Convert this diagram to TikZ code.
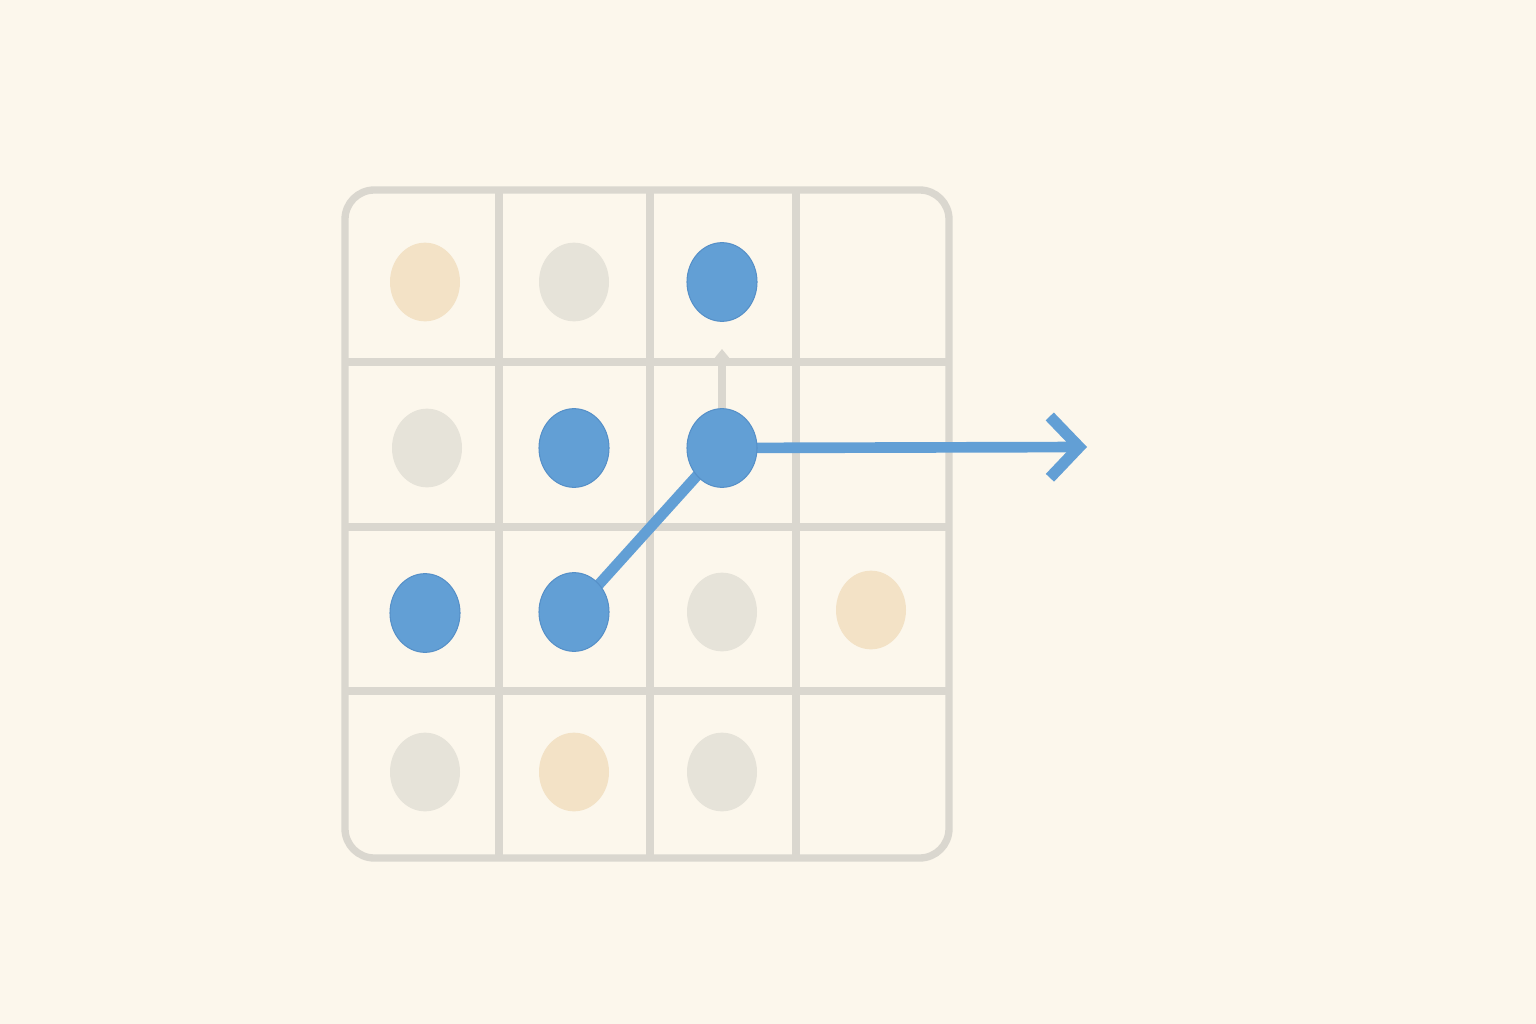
\documentclass[tikz,border=0pt]{standalone}
\usetikzlibrary{arrows.meta,shapes.geometric}
\definecolor{bg}{HTML}{FCF7EC}
\definecolor{gridc}{HTML}{DAD7CF}
\definecolor{dblue}{HTML}{629FD5}
\definecolor{dblueedge}{HTML}{5690C8}
\definecolor{dbeige}{HTML}{F3E2C6}
\definecolor{dgray}{HTML}{E6E3D9}
\begin{document}
\begin{tikzpicture}[x=0.75pt,y=-0.75pt,
  gridline/.style={draw=gridc,line width=5.5pt},
  dot/.style={ellipse,minimum width=52.5pt,minimum height=59pt,inner sep=0pt},
  bluedot/.style={dot,fill=dblue,draw=dblueedge,line width=0.8pt},
  beigedot/.style={dot,fill=dbeige},
  graydot/.style={dot,fill=dgray},
  link/.style={draw=dblue,line width=8pt},
  uparrow/.style={draw=gridc,line width=5.5pt,-{Triangle[length=7pt,width=11pt]}}]
\fill[bg] (0,0) rectangle (1536,1024);
\useasboundingbox (0,0) rectangle (1536,1024);
% grid
\draw[gridline,rounded corners=22pt] (345,190) rectangle (949,858);
\foreach \x in {499,650,796} \draw[gridline] (\x,190) -- (\x,858);
\foreach \y in {362,527,691} \draw[gridline] (345,\y) -- (949,\y);
% coordinates for connectors
\coordinate (up) at (722,349);
\coordinate (out) at (1087,447);
% connectors (behind dots)
\draw[uparrow] (722,448) -- (up);
\draw[link] (574,612) -- (722,448);
\draw[link,-{Straight Barb[length=22pt,width=46pt,line width=8.5pt]}] (722,448) -- (out);
% dots
\node[beigedot] (a1) at (425,282) {};
\node[graydot]  (a2) at (574,282) {};
\node[bluedot]  (a3) at (722,282) {};
\node[graydot]  (b1) at (427,448) {};
\node[bluedot]  (b2) at (574,448) {};
\node[bluedot]  (b3) at (722,448) {};
\node[bluedot]  (c1) at (425,613) {};
\node[bluedot]  (c2) at (574,612) {};
\node[graydot]  (c3) at (722,612) {};
\node[beigedot] (c4) at (871,610) {};
\node[graydot]  (d1) at (425,772) {};
\node[beigedot] (d2) at (574,772) {};
\node[graydot]  (d3) at (722,772) {};
\end{tikzpicture}
\end{document}
